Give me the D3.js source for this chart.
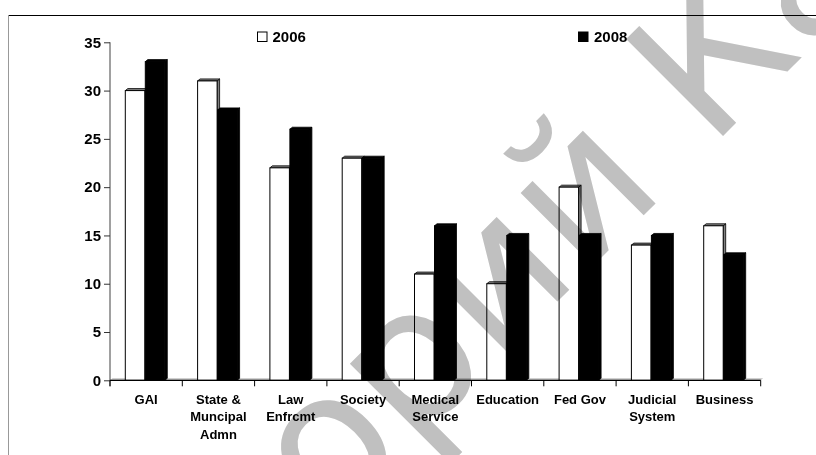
<!DOCTYPE html>
<html>
<head>
<meta charset="utf-8">
<script src="https://cdn.jsdelivr.net/npm/d3@7/dist/d3.min.js"></script>
<style>
  html, body { margin: 0; padding: 0; background: #fff; }
  svg { display: block; }
</style>
</head>
<body>
<svg id="chart" width="816" height="455"></svg>
<script>
// Categories (each label split into its display lines)
const categories = ["GAI", "State & Muncipal Admn", "Law Enfrcmt", "Society",
  "Medical Service", "Education", "Fed Gov", "Judicial System", "Business"];
const categoryLines = [["GAI"], ["State &", "Muncipal", "Admn"], ["Law", "Enfrcmt"],
  ["Society"], ["Medical", "Service"], ["Education"], ["Fed Gov"], ["Judicial", "System"], ["Business"]];

// Series
const seriesNames = ["2006", "2008"];
const values2006 = [30, 31, 22, 23, 11, 10, 20, 14, 16];
const values2008 = [33, 28, 26, 23, 16, 15, 15, 15, 13];

// Y axis ticks
const yTicks = [0, 5, 10, 15, 20, 25, 30, 35];

const watermarkText = "Репозиторий КазНУ";

const labelFont = "'Liberation Sans', Arial, sans-serif";
const svg = d3.select("#chart");

// Plot geometry
const plot = { left: 110, right: 760.7, top: 42.3, bottom: 380.3 };
const depth = { dx: 2.5, dy: 2 };

const x = d3.scaleBand().domain(categories).range([plot.left, plot.right]).padding(0);
const xSub = d3.scaleBand().domain(seriesNames).range([15.3, 55.3]).padding(0);
const y = d3.scaleLinear().domain([0, 35]).range([plot.bottom, plot.top]);

const seriesStyle = {
  "2006": { front: "#ffffff", top: "#808080", side: "#808080", stroke: "#000" },
  "2008": { front: "#000000", top: "#000000", side: "#000000", stroke: "#000" }
};

// Frame around the chart area
svg.append("line").attr("x1", 8).attr("x2", 816).attr("y1", 15.5).attr("y2", 15.5)
  .attr("stroke", "#000").attr("stroke-width", 1);
svg.append("line").attr("x1", 8.5).attr("x2", 8.5).attr("y1", 15).attr("y2", 455)
  .attr("stroke", "#999").attr("stroke-width", 1);

// Floor strip of the 3D plot
svg.append("polygon")
  .attr("points", [[plot.left, plot.bottom], [plot.left + depth.dx, plot.bottom - depth.dy],
    [plot.right + depth.dx, plot.bottom - depth.dy], [plot.right, plot.bottom]].join(" "))
  .attr("fill", "#c0c0c0");

// Bars with a shallow 3D extrusion
const rows = [];
categories.forEach((c, i) => {
  rows.push({ cat: c, series: "2006", value: values2006[i] });
  rows.push({ cat: c, series: "2008", value: values2008[i] });
});

const barW = 19.5;
const bars = svg.append("g").attr("class", "bars");
rows.forEach(d => {
  const st = seriesStyle[d.series];
  const x0 = x(d.cat) + xSub(d.series);
  const x1 = x0 + barW;
  const yTop = y(d.value);
  const yBase = y(0);
  const g = bars.append("g");
  // side face
  g.append("polygon")
    .attr("points", [[x1, yBase], [x1, yTop], [x1 + depth.dx, yTop - depth.dy], [x1 + depth.dx, yBase - depth.dy]].join(" "))
    .attr("fill", st.side).attr("stroke", st.stroke).attr("stroke-width", 0.8).attr("stroke-linejoin", "round");
  // top face
  g.append("polygon")
    .attr("points", [[x0, yTop], [x0 + depth.dx, yTop - depth.dy], [x1 + depth.dx, yTop - depth.dy], [x1, yTop]].join(" "))
    .attr("fill", st.top).attr("stroke", st.stroke).attr("stroke-width", 0.8).attr("stroke-linejoin", "round");
  // front face
  g.append("rect")
    .attr("x", x0).attr("y", yTop).attr("width", barW).attr("height", yBase - yTop)
    .attr("fill", st.front).attr("stroke", st.stroke).attr("stroke-width", 1);
});

// Y axis
const yAxis = d3.axisLeft(y).tickValues(yTicks).tickSize(6).tickPadding(3).tickFormat(d3.format("d"));
const gy = svg.append("g").attr("transform", `translate(${plot.left},0)`).call(yAxis);
gy.select(".domain").attr("stroke", "#808080").attr("stroke-width", 1.5)
  .attr("d", `M0,${plot.top}V${plot.bottom + 6}`);
gy.selectAll(".tick line").attr("stroke", "#333");
gy.selectAll(".tick text").attr("font-size", 15).attr("font-weight", "bold").attr("fill", "#000")
  .style("font-family", labelFont);

// X axis with ticks at category boundaries
const gx = svg.append("g").attr("transform", `translate(0,${plot.bottom})`);
gx.append("line").attr("x1", plot.left).attr("x2", plot.right).attr("y1", 0).attr("y2", 0)
  .attr("stroke", "#000").attr("stroke-width", 1.2);
const boundaries = categories.map(c => x(c)).concat([plot.right]);
gx.selectAll("line.tk").data(boundaries).join("line").attr("class", "tk")
  .attr("x1", d => d).attr("x2", d => d).attr("y1", 0).attr("y2", 6)
  .attr("stroke", "#000").attr("stroke-width", 1);

const labels = gx.selectAll("text.cat").data(categories).join("text").attr("class", "cat")
  .attr("text-anchor", "middle").attr("font-size", 13).attr("font-weight", "bold").attr("fill", "#000")
  .style("font-family", labelFont)
  .attr("transform", d => `translate(${x(d) + x.bandwidth() / 2},0)`);
labels.each(function(d, i) {
  d3.select(this).selectAll("tspan").data(categoryLines[i]).join("tspan")
    .attr("x", 0).attr("y", (t, j) => 23.5 + j * 17.7).text(t => t);
});

// Legend
const legendItems = [
  { name: "2006", bx: 257.5, tx: 272.5 },
  { name: "2008", bx: 578.5, tx: 594 }
];
const lg = svg.append("g");
legendItems.forEach(it => {
  const st = seriesStyle[it.name];
  lg.append("rect").attr("x", it.bx).attr("y", 32).attr("width", 9.5).attr("height", 9.5)
    .attr("fill", st.front).attr("stroke", "#000").attr("stroke-width", 1);
  lg.append("text").attr("x", it.tx).attr("y", 41.5).attr("font-size", 15).attr("font-weight", "bold")
    .attr("fill", "#000").style("font-family", labelFont).text(it.name);
});

// Repository watermark, set diagonally across the page
const wm = svg.append("g").attr("transform", "translate(710,149) rotate(-45)")
  .style("mix-blend-mode", "multiply");
const wmText = wm.append("text").attr("font-size", 188).attr("fill", "#c0c0c0")
  .style("font-family", "'DejaVu Sans', Verdana, sans-serif").text(watermarkText);
const kIndex = watermarkText.indexOf("К");
const kPos = wmText.node().getStartPositionOfChar(kIndex).x;
wmText.attr("x", -kPos);
</script>
</body>
</html>
